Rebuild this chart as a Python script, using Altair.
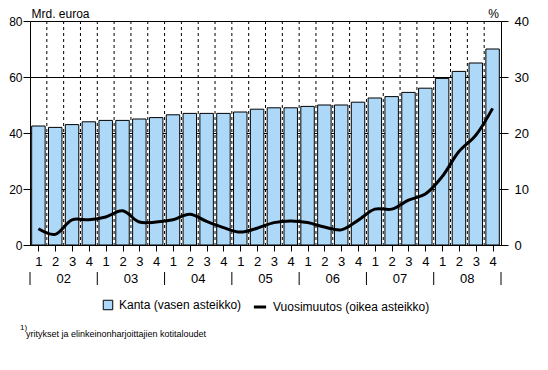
import altair as alt
import pandas as pd

quarters = ["1", "2", "3", "4"] * 7
years = ["02", "03", "04", "05", "06", "07", "08"]
kanta = [42.5, 42, 43, 44, 44.5, 44.5, 45, 45.5, 46.5, 47, 47, 47, 47.5, 48.5,
         49, 49, 49.5, 50, 50, 51, 52.5, 53, 54.5, 56, 59.5, 62, 65, 70]
vuosimuutos = [2.9, 1.9, 4.5, 4.5, 5.0, 6.1, 4.1, 4.1, 4.5, 5.5, 4.2, 3.1, 2.3, 3.0,
               4.0, 4.3, 4.0, 3.2, 2.7, 4.4, 6.4, 6.4, 8.0, 9.1, 12.2, 16.7, 19.6, 24.4]
series_names = ["Kanta (vasen asteikko)", "Vuosimuutos (oikea asteikko)"]
footnote = "yritykset ja elinkeinonharjoittajien kotitaloudet"

W, H = 471, 224
FONT = "Liberation Sans"

df = pd.DataFrame({
    "idx": list(range(len(kanta))),
    "q": quarters,
    "kanta": kanta,
    "muutos": vuosimuutos,
    "s1": series_names[0],
    "s2": series_names[1],
})
ydf = pd.DataFrame({"year": years, "i": list(range(len(years)))})
sepdf = pd.DataFrame({"j": list(range(len(years) + 1))})

xscale = alt.Scale(domain=[0, len(kanta)], nice=False, zero=False)
xaxis = alt.Axis(
    values=[i + 0.5 for i in range(len(kanta))],
    labelExpr="'' + (floor(datum.value) % 4 + 1)",
    grid=False, tickSize=6, tickColor="black", domainColor="black",
    labelColor="black", labelFontSize=13, labelPadding=4, title="",
    labelFont=FONT,
)
base = alt.Chart(df)

grid_v = base.transform_filter("datum.idx > 0").mark_rule(
    color="black", strokeDash=[3, 3], strokeWidth=1
).encode(
    x=alt.X("idx:Q", scale=xscale, axis=xaxis),
    y=alt.value(0),
    y2=alt.value(H),
)

bars = base.transform_calculate(
    x0="datum.idx + 0.1", x1="datum.idx + 0.9", z="0"
).mark_bar(stroke="black", strokeWidth=1).encode(
    x=alt.X("x0:Q", scale=xscale, axis=xaxis),
    x2="x1:Q",
    y=alt.Y("kanta:Q", scale=alt.Scale(domain=[0, 80], nice=False), axis=alt.Axis(
        values=[0, 20, 40, 60, 80], grid=True, gridColor="black", gridOpacity=1,
        gridWidth=1, tickSize=7, tickColor="black", domainColor="black",
        labelColor="black", labelFontSize=12, labelPadding=1, labelFont=FONT,
        title="Mrd. euroa", titleAngle=0, titleAlign="left", titleBaseline="alphabetic",
        titleX=1, titleY=-4, titleFontWeight="normal", titleFontSize=12,
        titleColor="black", titleFont=FONT,
    )),
    y2="z:Q",
    fill=alt.Fill("s1:N", scale=alt.Scale(domain=[series_names[0]], range=["#ADD8F8"]),
                  legend=alt.Legend(orient="none", legendX=72, legendY=278, title=None,
                                    symbolType="square", symbolStrokeColor="black",
                                    symbolStrokeWidth=1, symbolSize=90,
                                    labelFontSize=12, labelFont=FONT, labelColor="black",
                                    padding=0, labelOffset=5)),
)

line = base.transform_calculate(xc="datum.idx + 0.5").mark_line(
    interpolate="catmull-rom", strokeWidth=3
).encode(
    x=alt.X("xc:Q", scale=xscale, axis=xaxis),
    y=alt.Y("muutos:Q", scale=alt.Scale(domain=[0, 40], nice=False), axis=alt.Axis(
        orient="right", values=[0, 10, 20, 30, 40], grid=False, tickSize=7,
        tickColor="black", domainColor="black", labelColor="black", labelFontSize=13,
        labelPadding=6, labelFont=FONT,
        title="%", titleAngle=0, titleAlign="center", titleBaseline="alphabetic",
        titleX=-8, titleY=-4, titleFontWeight="normal", titleFontSize=12,
        titleColor="black", titleFont=FONT,
    )),
    stroke=alt.Stroke("s2:N", scale=alt.Scale(domain=[series_names[1]], range=["black"]),
                      legend=alt.Legend(orient="none", legendX=222, legendY=278, title=None,
                                        symbolType="stroke", symbolStrokeWidth=3,
                                        symbolSize=150, labelFontSize=12, labelFont=FONT,
                                        labelColor="black", padding=0, labelOffset=5)),
)

year_text = alt.Chart(ydf).transform_calculate(xp="datum.i * 4 + 2").mark_text(
    fontSize=13, font=FONT, color="black", baseline="middle"
).encode(
    x=alt.X("xp:Q", scale=xscale, axis=xaxis),
    y=alt.value(H + 34),
    text="year:N",
)

seps = alt.Chart(sepdf).transform_calculate(xp="datum.j * 4").mark_rule(
    color="black", strokeWidth=1
).encode(
    x=alt.X("xp:Q", scale=xscale, axis=xaxis),
    y=alt.value(H + 27),
    y2=alt.value(H + 40),
)

fn_df = pd.DataFrame({"sup": ["1)"], "txt": [footnote]})
fn_sup = alt.Chart(fn_df).mark_text(
    fontSize=8, font=FONT, color="black", align="left", baseline="middle"
).encode(x=alt.value(-10), y=alt.value(H + 83), text="sup:N")
fn_txt = alt.Chart(fn_df).mark_text(
    fontSize=9, font=FONT, color="black", align="left", baseline="middle"
).encode(x=alt.value(-4), y=alt.value(H + 89), text="txt:N")

chart = alt.layer(grid_v, bars, line, year_text, seps, fn_sup, fn_txt).resolve_scale(
    y="independent", fill="independent", stroke="independent"
).properties(
    width=W, height=H,
    autosize=alt.AutoSizeParams(type="none"),
    padding={"left": 22, "top": 13, "right": 39, "bottom": 117},
).configure_view(stroke=None).configure(background="white")

chart.save("out.html", embed_options={"renderer": "svg", "actions": False})
